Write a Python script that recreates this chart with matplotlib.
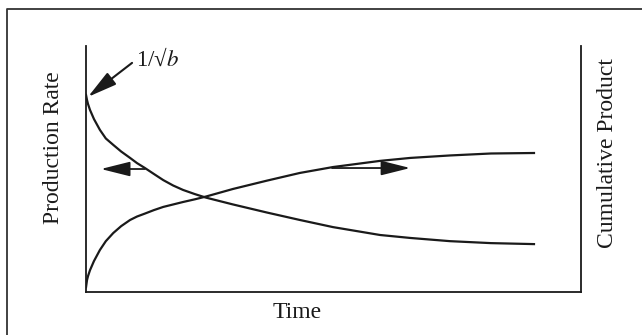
import matplotlib
matplotlib.use("Agg")
import matplotlib.pyplot as plt
from matplotlib.lines import Line2D

plt.rcParams['font.family'] = ['Liberation Serif', 'DejaVu Serif']
plt.rcParams['mathtext.fontset'] = 'stix'

# values (time in arbitrary units, curves normalised 0..1)
time = [0, 0.02, 0.04, 0.08, 0.16, 0.28, 0.40, 0.55, 0.71, 0.89, 1.03, 1.19, 1.37, 1.56,
        1.76, 1.96, 2.20, 2.42, 2.97, 3.66, 4.32, 4.99, 5.94, 6.55, 7.35, 8.18, 9.05]
production_rate = [0.801, 0.780, 0.764, 0.740, 0.703, 0.659, 0.624, 0.598, 0.571, 0.545,
                   0.524, 0.504, 0.480, 0.455, 0.433, 0.415, 0.398, 0.384, 0.356, 0.323,
                   0.293, 0.264, 0.232, 0.220, 0.207, 0.199, 0.195]
cumulative_product = [0.020, 0.049, 0.065, 0.089, 0.126, 0.171, 0.207, 0.240, 0.268, 0.293,
                      0.307, 0.319, 0.333, 0.346, 0.356, 0.366, 0.377, 0.388, 0.419, 0.453,
                      0.484, 0.508, 0.533, 0.545, 0.555, 0.563, 0.565]

ink = '#1a1a1a'

fig = plt.figure(figsize=(6.42, 3.35), dpi=100)
ax = fig.add_axes([0.134, 0.128, 0.771, 0.735])

ax.plot(time, production_rate, color=ink, lw=1.6, solid_joinstyle='round')
ax.plot(time, cumulative_product, color=ink, lw=1.6, solid_joinstyle='round')

ax.set_xlim(0, 10)
ax.set_ylim(0, 1)
ax.set_xticks([])
ax.set_yticks([])
ax.spines['top'].set_visible(False)
for s in ['left', 'right', 'bottom']:
    ax.spines[s].set_linewidth(1.3)
    ax.spines[s].set_color(ink)

# arrows
arrow = dict(arrowstyle='-|>,head_length=1.2,head_width=0.3',
             mutation_scale=15, color=ink, lw=1.3, shrinkA=0, shrinkB=0)
ax.annotate('', xy=(0.30, 0.50), xytext=(1.19, 0.50), arrowprops=arrow)
ax.annotate('', xy=(6.55, 0.504), xytext=(4.97, 0.504), arrowprops=arrow)
ax.annotate('', xy=(0.04, 0.793), xytext=(0.93, 0.931), annotation_clip=False,
            arrowprops=dict(arrow, lw=1.5))
ax.text(1.0, 0.945, r'1/√$b$', fontsize=16.5, color=ink, ha='left', va='center', clip_on=False)

fig.text(0.463, 0.066, 'Time', fontsize=17, color=ink, ha='center', va='center')
fig.text(0.084, 0.56, 'Production Rate', fontsize=17, color=ink, rotation=90,
         ha='center', va='center')
fig.text(0.947, 0.542, 'Cumulative Product', fontsize=17, color=ink, rotation=90,
         ha='center', va='center')

# outer frame (cut off at right and bottom in the reference)
fig.add_artist(Line2D([0.011, 0.011, 1.0], [0.0, 0.973, 0.973],
                      transform=fig.transFigure, color='#333333', lw=1.3))

fig.savefig('out.png', dpi=100)
